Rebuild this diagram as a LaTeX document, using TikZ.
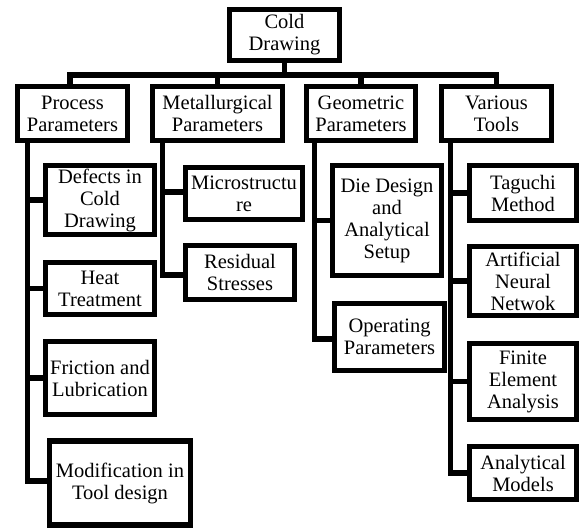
\documentclass[tikz,border=0pt]{standalone}
\usepackage{fontspec}
\setmainfont{Liberation Serif}

\begin{document}
\begin{tikzpicture}[
  x=1pt, y=-1pt,
  box/.style={draw, line width=5.5pt, align=center, inner sep=0pt, font=\fontsize{20.5}{22}\selectfont},
  link/.style={line width=5.5pt}
]
\useasboundingbox (0,0) rectangle (580,528);

\node[box, minimum width=110pt, minimum height=51pt] (root) at (284.5,35) {Cold\\Drawing};

\node[box, minimum width=110pt, minimum height=54pt] (proc) at (72.5,113.5) {Process\\Parameters};
\node[box, minimum width=130pt, minimum height=54pt] (metal) at (217.5,113.5) {Metallurgical\\Parameters};
\node[box, minimum width=109pt, minimum height=54pt] (geom) at (361,113.5) {Geometric\\Parameters};
\node[box, minimum width=110pt, minimum height=54pt] (tools) at (496.5,113.5) {Various\\Tools};

\node[box, minimum width=109pt, minimum height=69pt] (defects) at (100,200) {Defects in\\Cold\\Drawing};
\node[box, minimum width=109pt, minimum height=52pt] (heat) at (100,288.5) {Heat\\Treatment};
\node[box, minimum width=109pt, minimum height=73pt] (friction) at (100,378) {Friction and\\Lubrication};
\node[box, minimum width=141pt, minimum height=84pt] (modif) at (120,483) {Modification in\\Tool design};

\node[box, minimum width=117pt, minimum height=52pt] (micro) at (244,193.5) {Microstructu\\re};
\node[box, minimum width=109pt, minimum height=54pt] (resid) at (240,272.5) {Residual\\Stresses};

\node[box, minimum width=109pt, minimum height=110pt] (die) at (387,220.5) {Die Design\\and\\Analytical\\Setup};
\node[box, minimum width=110pt, minimum height=67pt] (oper) at (389.5,337) {Operating\\Parameters};

\node[box, minimum width=107pt, minimum height=55pt] (taguchi) at (523,193) {Taguchi\\Method};
\node[box, minimum width=107pt, minimum height=69pt] (ann) at (523,281) {Artificial\\Neural\\Netwok};
\node[box, minimum width=107pt, minimum height=76pt] (fea) at (523,381.5) {Finite\\Element\\Analysis};
\node[box, minimum width=107pt, minimum height=53pt] (anal) at (523,473) {Analytical\\Models};

\coordinate (bar) at (0,75);
\coordinate (ptrunk) at ([xshift=12.5pt]proc.south west);
\coordinate (mtrunk) at ([xshift=12.5pt]metal.south west);
\coordinate (gtrunk) at ([xshift=10.5pt]geom.south west);
\coordinate (ttrunk) at ([xshift=11.5pt]tools.south west);

\draw[link] (root.south) -- (root.south |- bar);
\draw[link] ([xshift=-2.5pt]proc.north) |- (tools.north |- bar) -- (tools.north);
\draw[link] (metal.north) -- (metal.north |- bar);
\draw[link] (geom.north) -- (geom.north |- bar);

\draw[link] (ptrunk) |- (defects.west);
\draw[link] (ptrunk) |- (heat.west);
\draw[link] (ptrunk) |- (friction.west);
\draw[link] (ptrunk) |- ([yshift=2pt]modif.west);
\draw[link] (mtrunk) |- ([yshift=1.5pt]micro.west);
\draw[link] (mtrunk) |- ([yshift=-2.5pt]resid.west);
\draw[link] (gtrunk) |- (die.west);
\draw[link] (gtrunk) |- ([yshift=-2pt]oper.west);
\draw[link] (ttrunk) |- (taguchi.west);
\draw[link] (ttrunk) |- (ann.west);
\draw[link] (ttrunk) |- (fea.west);
\draw[link] (ttrunk) |- (anal.west);
\end{tikzpicture}
\end{document}
